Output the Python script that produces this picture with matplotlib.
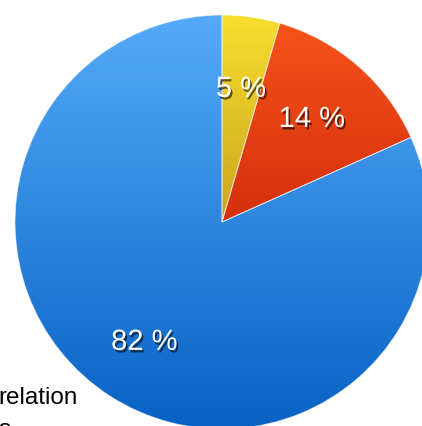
import numpy as np
import matplotlib
matplotlib.use("Agg")
import matplotlib.pyplot as plt
import matplotlib.patheffects as pe
from matplotlib.colors import LinearSegmentedColormap

# ---- data ----
categories = ["Yellow", "Red", "Blue"]
shares = [4.5, 13.8, 81.7]
pct_labels = ["5 %", "14 %", "82 %"]
legend_lines = ["relation", "s"]

# gradient colours (top of pie -> bottom of pie)
grad_top = ["#f8de2e", "#f7541a", "#55aaf8"]
grad_bottom = ["#a06a10", "#b20a00", "#0862c4"]

W, H, DPI = 422, 426, 100
CX, CY, R = 222, 222, 207  # pixel centre & radius

fig = plt.figure(figsize=(W / DPI, H / DPI), dpi=DPI)
ax = fig.add_axes([0, 0, 1, 1])

wedges, texts, autotexts = ax.pie(
    shares, labels=None, startangle=90, counterclock=False,
    radius=1.0, center=(0, 0),
    autopct=lambda p: "", pctdistance=0.66,
    wedgeprops=dict(linewidth=0.7, edgecolor=(1, 1, 1, 0.55)),
)
ax.set_xlim((0 - CX) / R, (W - CX) / R)
ax.set_ylim((CY - H) / R, CY / R)
ax.set_aspect("equal")
ax.axis("off")

grad = np.linspace(0, 1, 256).reshape(-1, 1)
for w, top, bot in zip(wedges, grad_top, grad_bottom):
    cmap = LinearSegmentedColormap.from_list("g", [top, bot])
    im = ax.imshow(grad, cmap=cmap, extent=(-1, 1, -1, 1), origin="upper",
                   aspect="auto", zorder=1, interpolation="bilinear")
    im.set_clip_path(w)
    w.set_facecolor("none")
    w.set_zorder(2)
ax.set_xlim((0 - CX) / R, (W - CX) / R)
ax.set_ylim((CY - H) / R, CY / R)

shadow = [pe.SimplePatchShadow(offset=(1.2, -1.8), shadow_rgbFace="#000000", alpha=0.6),
          pe.Normal()]
radial = [0.65, 0.66, 0.69]
for t, lab, rr in zip(autotexts, pct_labels, radial):
    x, y = t.get_position()
    d = np.hypot(x, y)
    t.set_position((x / d * rr, y / d * rr))
    t.set_text(lab)
    t.set_color("white")
    t.set_fontsize(21)
    t.set_fontfamily("Liberation Sans")
    t.set_path_effects(shadow)
    t.set_zorder(5)

# clipped legend text at lower left
fig.text(-1.5 / W, 1 - 404 / H, legend_lines[0], ha="left", va="baseline",
         fontsize=17.5, family="Liberation Sans", color="black")
fig.text(-1.5 / W, 1 - 436 / H, legend_lines[1], ha="left", va="baseline",
         fontsize=17.5, family="Liberation Sans", color="black")

fig.savefig("out.png", dpi=DPI)
